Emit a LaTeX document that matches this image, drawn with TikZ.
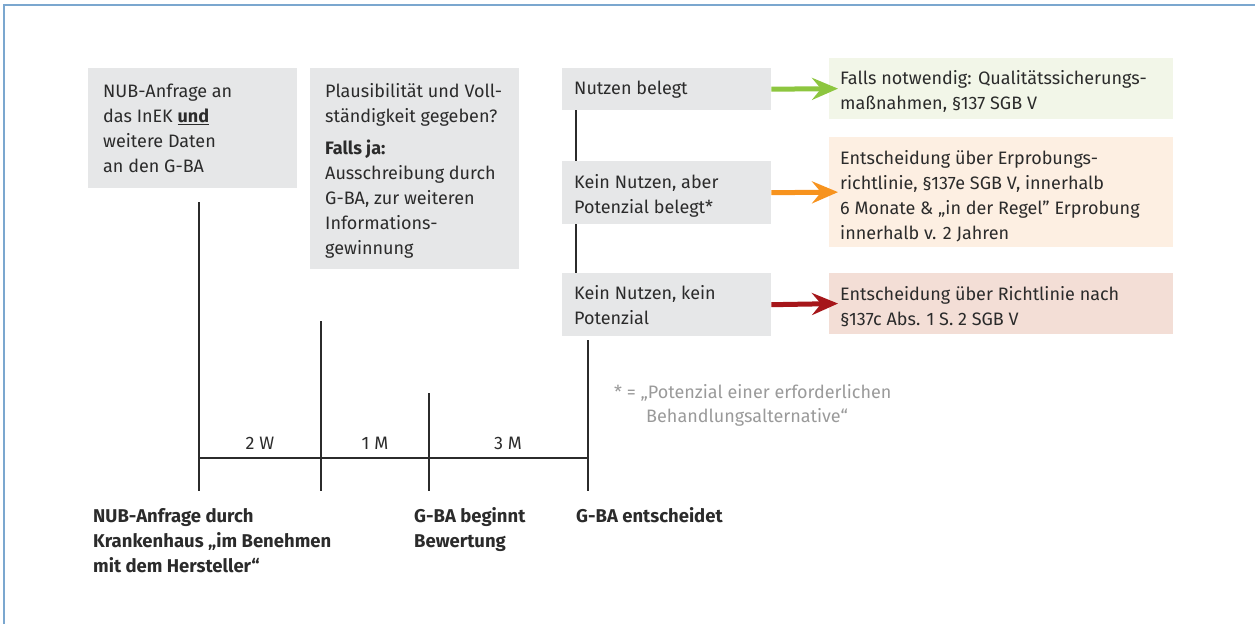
\documentclass[tikz,border=0pt]{standalone}
\usepackage{fontspec}
\setmainfont{Fira Sans}
\usetikzlibrary{arrows.meta,calc}
\definecolor{boxgray}{HTML}{E6E7E8}
\definecolor{boxgreen}{HTML}{F2F6E8}
\definecolor{boxorange}{HTML}{FDEFE2}
\definecolor{boxred}{HTML}{F3DED6}
\definecolor{arrgreen}{HTML}{8DC63F}
\definecolor{arrorange}{HTML}{F7931E}
\definecolor{arrred}{HTML}{A6161A}
\definecolor{textdark}{HTML}{2B2B2B}
\definecolor{framecol}{HTML}{7BA7CF}
\definecolor{notegray}{HTML}{9A9A9A}
\newcommand\mainsz{\fontsize{18}{25}\selectfont}
\newcommand\boldsz{\fontsize{18.5}{25}\selectfont}
\newcommand\notesz{\fontsize{18}{24}\selectfont}
\begin{document}
\begin{tikzpicture}[x=1pt,y=-1pt,
  box/.style={anchor=north west,inner sep=0pt,draw=none},
  graybox/.style={box,fill=boxgray,minimum width=209pt},
  txt/.style={anchor=north west,inner sep=0pt,align=left,font=\mainsz,text=textdark},
  lbl/.style={anchor=base,inner sep=0pt,font=\mainsz,text=textdark},
  blbl/.style={anchor=north west,inner sep=0pt,align=left,font=\boldsz\bfseries,text=textdark},
  tl/.style={draw=textdark,line width=1.5pt},
  arr/.style={line width=5pt,-{Stealth[length=26pt,width=22pt,inset=9pt]},shorten >=-9pt},
  frame/.style={draw=framecol,line width=2pt}]
\useasboundingbox (0,0) rectangle (1255,624);

% frame
\coordinate (fbl) at (4,624);
\coordinate (ftl) at (4,4.5);
\coordinate (ftr) at (1255,4.5);
\draw[frame] (fbl) -- (ftl) -- (ftr);

% left boxes
\node[graybox,minimum height=120pt] (b1) at (88,68) {};
\node[txt] (b1t) at ($(b1.north west)+(15,11.5)$) {\strut NUB-Anfrage an\\das InEK \textbf{\underline{und}}\\weitere Daten\\an den G-BA};
\node[graybox,minimum height=201pt] (b2) at (310,68) {};
\node[txt] (b2t) at ($(b2.north west)+(15,11.5)$) {\strut Plausibilität und Voll-\\ständigkeit gegeben?\\[7pt]\textbf{Falls ja:}\\Ausschreibung durch\\G-BA, zur weiteren\\Informations-\\gewinnung};

% middle boxes
\node[graybox,minimum height=42pt] (b3) at (562,68) {};
\node[txt] (b3t) at ($(b3.north west)+(12,8.5)$) {\strut Nutzen belegt};
\node[graybox,minimum height=63pt] (b4) at (562,161) {};
\node[txt] (b4t) at ($(b4.north west)+(12,9.5)$) {\strut Kein Nutzen, aber\\Potenzial belegt*};
\node[graybox,minimum height=63pt] (b5) at (562,273) {};
\node[txt] (b5t) at ($(b5.north west)+(12,8.5)$) {\strut Kein Nutzen, kein\\Potenzial};

% right boxes
\node[box,fill=boxgreen,minimum width=344pt,minimum height=61pt] (g) at (829,58) {};
\node[txt] (gt) at ($(g.north west)+(11,8.5)$) {\strut Falls notwendig: Qualitätssicherungs-\\maßnahmen, §137 SGB V};
\node[box,fill=boxorange,minimum width=344pt,minimum height=110pt] (o) at (829,137) {};
\node[txt] (ot) at ($(o.north west)+(11,9.5)$) {\strut Entscheidung über Erprobungs-\\richtlinie, §137e SGB V, innerhalb\\6 Monate \& „in der Regel” Erprobung\\innerhalb v. 2 Jahren};
\node[box,fill=boxred,minimum width=344pt,minimum height=61pt] (r) at (829,273) {};
\node[txt] (rt) at ($(r.north west)+(11,9.5)$) {\strut Entscheidung über Richtlinie nach\\§137c Abs. 1 S. 2 SGB V};

% connectors between middle boxes
\draw[tl,line width=1.2pt] ($(b3.south west)+(14,0)$) -- ($(b4.north west)+(14,0)$);
\draw[tl,line width=1.2pt] ($(b4.south west)+(14,0)$) -- ($(b5.north west)+(14,0)$);

% arrows
\draw[arr,draw=arrgreen,fill=arrgreen] (b3.east) -- (g.west);
\draw[arr,draw=arrorange,fill=arrorange] (b4.east) -- (o.west);
\draw[arr,draw=arrred,fill=arrred] (b5.east) -- (r.west);

% timeline
\coordinate (t1top) at (199,202);
\coordinate (t2top) at (321,321);
\coordinate (t3top) at (429,393);
\coordinate (t4top) at (588,340);
\coordinate (t1) at (199,458);
\coordinate (t4) at (588,458);
\coordinate (t1b) at (199,491);
\coordinate (t2b) at (321,491);
\coordinate (t3b) at (429,491);
\coordinate (t4b) at (588,491);
\draw[tl] (t1top) -- (t1b);
\draw[tl] (t2top) -- (t2b);
\draw[tl] (t3top) -- (t3b);
\draw[tl] (t4top) -- (t4b);
\draw[tl] (t1) -- (t4);

\node[lbl] (l1) at (260,449) {2 W};
\node[lbl] (l2) at (375,449) {1 M};
\node[lbl] (l3) at (508,449) {3 M};

\node[blbl] (n1) at (93,504.5) {\strut NUB-Anfrage durch\\Krankenhaus „im Benehmen\\mit dem Hersteller“};
\node[blbl] (n2) at (414,504.5) {\strut G-BA beginnt\\Bewertung};
\node[blbl] (n3) at (576,504.5) {\strut G-BA entscheidet};

% footnote
\node[anchor=north west,inner sep=0pt,align=left,font=\notesz,text=notegray] (fn) at (614,381.2) {\strut * = „Potenzial einer erforderlichen\\\hspace*{32pt}Behandlungsalternative“};
\end{tikzpicture}
\end{document}
